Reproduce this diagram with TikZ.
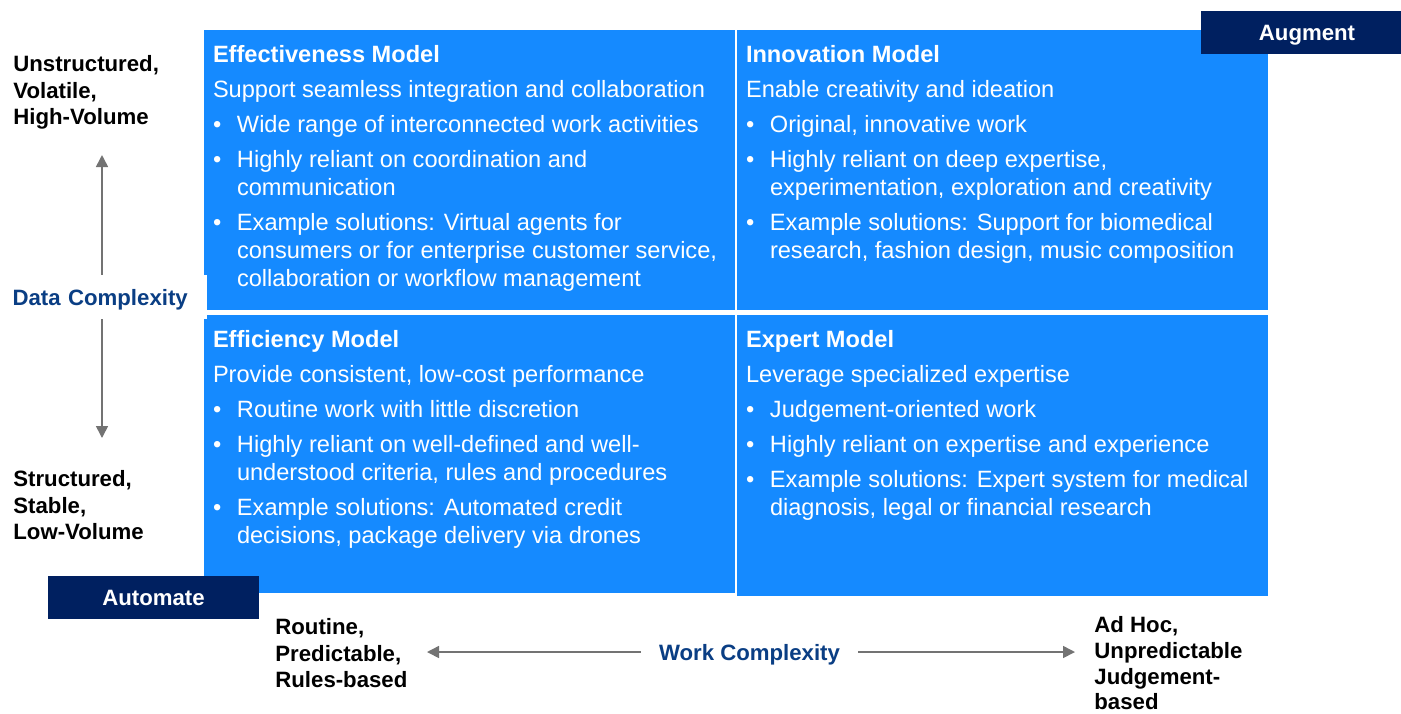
\documentclass[tikz,border=0pt]{standalone}
\usepackage{fontspec}
\setmainfont{Liberation Sans}
\usetikzlibrary{arrows.meta}

\definecolor{quadblue}{RGB}{21,138,255}
\definecolor{navy}{RGB}{0,32,96}
\definecolor{axisblue}{RGB}{10,62,132}
\definecolor{arrowgray}{RGB}{115,115,115}

\newcommand{\bul}{\makebox[12pt][l]{\textbullet}}
\newcommand{\ind}{\hspace*{12pt}}

\tikzset{
  quad/.style={fill=quadblue, minimum width=265.5pt, inner sep=0pt},
  qtext/.style={anchor=north west, align=left, text=white, inner xsep=4.5pt, inner ysep=7.5pt, font=\fontsize{11.8}{14}\selectfont},
  side/.style={anchor=north west, align=left, inner sep=0pt, font=\bfseries\fontsize{11.1}{13.35}\selectfont},
  tag/.style={fill=navy, text=white, inner sep=0pt, text height=8pt, text depth=0pt, font=\bfseries\fontsize{11.1}{13}\selectfont},
  axis/.style={text=axisblue, fill=white, text height=8pt, text depth=0pt, font=\bfseries\fontsize{11.1}{13}\selectfont},
  arr/.style={draw=arrowgray, line width=0.8pt, -{Triangle[width=6pt,length=6pt]}}
}

\begin{document}
\begin{tikzpicture}[x=0.5pt,y=-0.5pt]
\useasboundingbox (0,0) rectangle (1401,713);

% the four models
\node[quad, minimum height=140pt] (eff) at (469.5,170) {};
\node[quad, minimum height=140pt] (inn) at (1002.5,170) {};
\node[quad, minimum height=139pt] (effi) at (469.5,454) {};
\node[quad, minimum height=140.5pt] (exp) at (1002.5,455.5) {};

\node[qtext] (efftxt) at (eff.north west) {{\bfseries Effectiveness Model}\\[3.5pt]
  Support seamless integration and collaboration\\[3.5pt]
  \bul Wide range of interconnected work activities\\[3.5pt]
  \bul Highly reliant on coordination and\\
  \ind communication\\[3.5pt]
  \bul Example solutions: Virtual agents for\\
  \ind consumers or for enterprise customer service,\\
  \ind collaboration or workflow management};
\node[qtext] (inntxt) at (inn.north west) {{\bfseries Innovation Model}\\[3.5pt]
  Enable creativity and ideation\\[3.5pt]
  \bul Original, innovative work\\[3.5pt]
  \bul Highly reliant on deep expertise,\\
  \ind experimentation, exploration and creativity\\[3.5pt]
  \bul Example solutions: Support for biomedical\\
  \ind research, fashion design, music composition};
\node[qtext] (effitxt) at (effi.north west) {{\bfseries Efficiency Model}\\[3.5pt]
  Provide consistent, low-cost performance\\[3.5pt]
  \bul Routine work with little discretion\\[3.5pt]
  \bul Highly reliant on well-defined and well-\\
  \ind understood criteria, rules and procedures\\[3.5pt]
  \bul Example solutions: Automated credit\\
  \ind decisions, package delivery via drones};
\node[qtext] (exptxt) at (exp.north west) {{\bfseries Expert Model}\\[3.5pt]
  Leverage specialized expertise\\[3.5pt]
  \bul Judgement-oriented work\\[3.5pt]
  \bul Highly reliant on expertise and experience\\[3.5pt]
  \bul Example solutions: Expert system for medical\\
  \ind diagnosis, legal or financial research};

% axes
\node[axis, anchor=east, align=left, text width=97pt, minimum height=22pt, inner sep=0pt] (dc) at (207,297) {Data Complexity};
\coordinate (uptip) at (102,155);
\coordinate (downtip) at (102,438);
\draw[arr] (dc.north -| uptip) -- (uptip);
\draw[arr] (dc.south -| downtip) -- (downtip);

\node[axis, inner xsep=9pt] (wc) at (749.5,652) {Work Complexity};
\coordinate (lefttip) at (427,652);
\coordinate (righttip) at (1075,652);
\draw[arr] (wc.west) -- (lefttip);
\draw[arr] (wc.east) -- (righttip);

\node[tag, minimum width=106pt, minimum height=21.5pt] (aug) at (1307,32.5) {Augment};
\node[tag, minimum width=105.5pt, minimum height=21.5pt] (auto) at (153.5,597.5) {Automate};

% end labels
\node[side] (high) at (13,55) {Unstructured,\\Volatile,\\High-Volume};
\node[side] (low) at (13,470) {Structured,\\Stable,\\Low-Volume};
\node[side] (routine) at (275,618) {Routine,\\Predictable,\\Rules-based};
\node[side, font=\bfseries\fontsize{11.1}{12.9}\selectfont] (adhoc) at (1094,616) {Ad Hoc,\\Unpredictable\\Judgement-\\based};
\end{tikzpicture}
\end{document}
